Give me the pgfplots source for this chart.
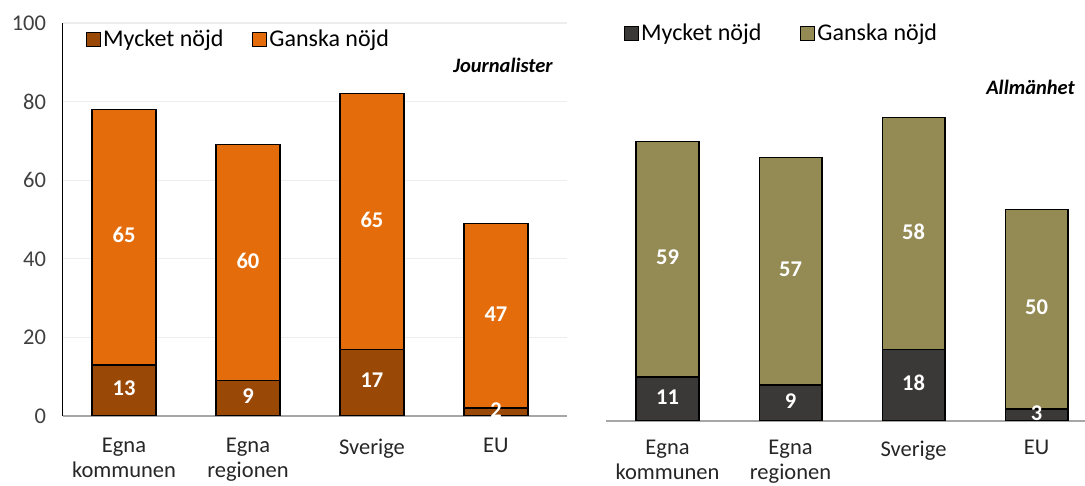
\documentclass[border=0pt]{standalone}
\usepackage{pgfplots}
\pgfplotsset{compat=1.18}
\usepackage{fontspec}
\setmainfont{Carlito}
\definecolor{brownL}{HTML}{9A4806}
\definecolor{orangeL}{HTML}{E46C0A}
\definecolor{darkR}{HTML}{3B3838}
\definecolor{oliveR}{HTML}{948A54}
\definecolor{gridc}{HTML}{EDEDED}
\definecolor{basec}{HTML}{A6A6A6}
\definecolor{ytext}{HTML}{404040}
\definecolor{xtext}{HTML}{262626}
\pgfplotsset{
  common/.style={
    scale only axis,
    ybar stacked,
    ymin=0, ymax=100,
    ytick={0,20,...,100},
    xtick={0,1,2,3},
    xticklabels={Egna\\kommunen, Egna\\regionen, Sverige, EU},
    xticklabel style={align=center, font=\fontsize{22.5}{25}\selectfont, text=xtext, yshift=-19pt},
    yticklabel style={font=\fontsize{22.5}{25}\selectfont, text=ytext, xshift=-13.5pt},
    /pgf/number format/assume math mode=true,
    major tick length=0pt,
    ymajorgrids,
    grid style={draw=gridc, line width=1.2pt},
    enlargelimits=false,
    legend image code/.code={\draw[#1, draw=black, line width=1pt] (0pt,-7pt) rectangle (14pt,7pt);},
    visualization depends on=rawy \as \rawy,
    nodes near coords={\pgfmathprintnumber{\rawy}},
    every node near coord/.append style={text=white, font=\bfseries\fontsize{22.5}{25}\selectfont, anchor=center, yshift=2pt},
  },
  barstyle/.style={draw=black, line width=1.3pt},
}
\begin{document}
\begin{tikzpicture}
\path[use as bounding box] (0pt,0pt) rectangle (1085pt,486pt);
% Left panel
\begin{axis}[common,
  at={(63pt,70pt)}, anchor=south west,
  width=504pt, height=393pt,
  xmin=-0.492, xmax=3.573,
  bar width=0.515,
  axis x line*=bottom, axis y line*=left,
  x axis line style={draw=basec, line width=1.6pt, -},
  y axis line style={draw=black, line width=1pt, -},
  legend style={draw=none, fill=none, legend columns=2, at={(0.0456,0.959)}, anchor=west, inner sep=0pt,
    font=\fontsize{24}{27}\selectfont,
    /tikz/every even column/.append style={column sep=27pt}},
]
\addplot[barstyle, fill=brownL] coordinates {(0,13) (1,9) (2,17) (3,2)};
\addplot[barstyle, fill=orangeL] coordinates {(0,65) (1,60) (2,65) (3,47)};
\legend{Mycket nöjd, Ganska nöjd}
\node[anchor=east, inner sep=0pt, font=\bfseries\itshape\fontsize{20.5}{24}\selectfont] at (rel axis cs:0.972,0.893) {Journalister};
\end{axis}
% Right panel
\begin{axis}[common,
  at={(606pt,65pt)}, anchor=south west,
  width=479pt, height=399pt,
  xmin=-0.5, xmax=3.394,
  bar width=0.51,
  yticklabels={},
  xticklabel style={yshift=3pt},
  axis x line*=bottom, axis y line=none,
  x axis line style={draw=basec, line width=1.6pt, -},
  legend style={draw=none, fill=none, legend columns=2, at={(0.0376,0.972)}, anchor=west, inner sep=0pt,
    font=\fontsize{24}{27}\selectfont,
    /tikz/every even column/.append style={column sep=37pt}},
]
\addplot[barstyle, fill=darkR] coordinates {(0,11) (1,9) (2,18) (3,3)};
\addplot[barstyle, fill=oliveR] coordinates {(0,59) (1,57) (2,58) (3,50)};
\legend{Mycket nöjd, Ganska nöjd}
\node[anchor=east, inner sep=0pt, font=\bfseries\itshape\fontsize{20.5}{24}\selectfont] at (rel axis cs:0.979,0.835) {Allmänhet};
\end{axis}
\end{tikzpicture}
\end{document}
